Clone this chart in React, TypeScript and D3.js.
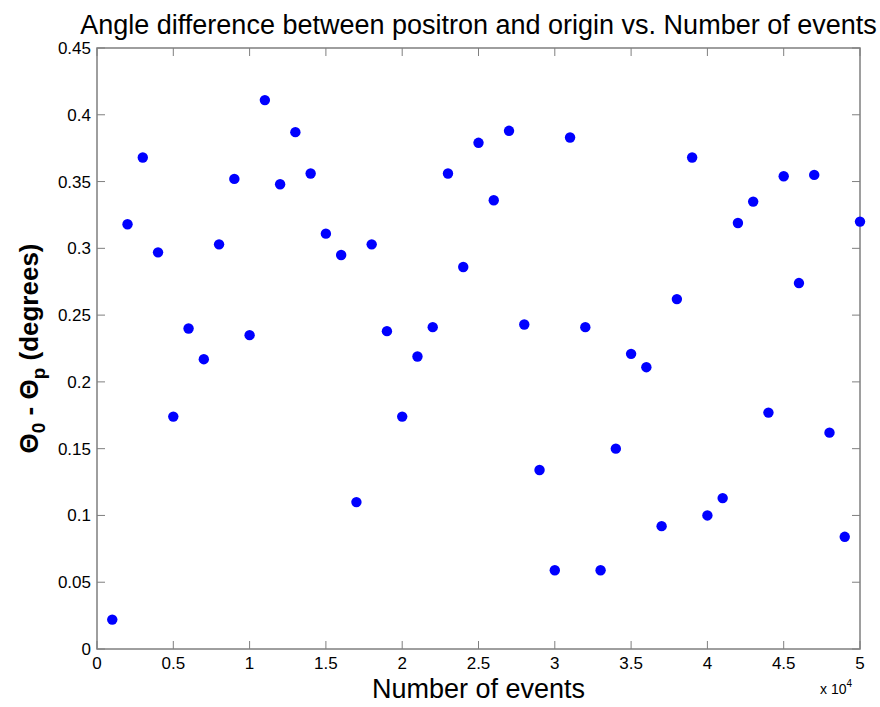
import React from 'react'
import * as d3 from 'd3'

// events (x) and angle difference in degrees (y)
const events = [
  1000, 2000, 3000, 4000, 5000, 6000, 7000, 8000, 9000, 10000,
  11000, 12000, 13000, 14000, 15000, 16000, 17000, 18000, 19000, 20000,
  21000, 22000, 23000, 24000, 25000, 26000, 27000, 28000, 29000, 30000,
  31000, 32000, 33000, 34000, 35000, 36000, 37000, 38000, 39000, 40000,
  41000, 42000, 43000, 44000, 45000, 46000, 47000, 48000, 49000, 50000
]
const angleDiff = [
  0.022, 0.318, 0.368, 0.297, 0.174, 0.240, 0.217, 0.303, 0.352, 0.235,
  0.411, 0.348, 0.387, 0.356, 0.311, 0.295, 0.110, 0.303, 0.238, 0.174,
  0.219, 0.241, 0.356, 0.286, 0.379, 0.336, 0.388, 0.243, 0.134, 0.059,
  0.383, 0.241, 0.059, 0.150, 0.221, 0.211, 0.092, 0.262, 0.368, 0.100,
  0.113, 0.319, 0.335, 0.177, 0.354, 0.274, 0.355, 0.162, 0.084, 0.320
]
const xTicks = [0, 5000, 10000, 15000, 20000, 25000, 30000, 35000, 40000, 45000, 50000]
const yTicks = [0, 0.05, 0.1, 0.15, 0.2, 0.25, 0.3, 0.35, 0.4, 0.45]

const title = 'Angle difference between positron and origin vs. Number of events'
const xLabel = 'Number of events'

export default function App() {
  const width = 880
  const height = 707
  const left = 97
  const right = 860
  const top = 48
  const bottom = 649

  const x = d3.scaleLinear().domain([0, 50000]).range([left, right])
  const y = d3.scaleLinear().domain([0, 0.45]).range([bottom, top])

  const font = 'Arial, "Liberation Sans", Helvetica, sans-serif'
  const axisColor = '#7f7f7f'
  const tickLen = 8

  return (
    <svg
      width={width}
      height={height}
      style={{ position: 'absolute', left: 0, top: 0, background: '#fff' }}
      fontFamily={font}
    >
      <rect x={0} y={0} width={width} height={height} fill="#fff" />

      {/* ticks on all four sides */}
      {xTicks.map((t, i) => (
        <g key={'xt' + i}>
          <line x1={x(t)} x2={x(t)} y1={bottom} y2={bottom - tickLen} stroke={axisColor} />
          <line x1={x(t)} x2={x(t)} y1={top} y2={top + tickLen} stroke={axisColor} />
          <text x={x(t)} y={bottom + 20} textAnchor="middle" fontSize={17} fill="#000">
            {t / 10000}
          </text>
        </g>
      ))}
      {yTicks.map((t, i) => (
        <g key={'yt' + i}>
          <line x1={left} x2={left + tickLen} y1={y(t)} y2={y(t)} stroke={axisColor} />
          <line x1={right} x2={right - tickLen} y1={y(t)} y2={y(t)} stroke={axisColor} />
          <text x={left - 6} y={y(t) + 6} textAnchor="end" fontSize={17} fill="#000">
            {t}
          </text>
        </g>
      ))}

      <rect
        x={left}
        y={top}
        width={right - left}
        height={bottom - top}
        fill="none"
        stroke={axisColor}
        strokeWidth={1.5}
      />

      {events.map((e, i) => (
        <circle key={i} cx={x(e)} cy={y(angleDiff[i])} r={5.2} fill="#0000ff" />
      ))}

      <text x={(left + right) / 2} y={34} textAnchor="middle" fontSize={27} fill="#000">
        {title}
      </text>

      <text x={(left + right) / 2} y={698} textAnchor="middle" fontSize={27} fill="#000">
        {xLabel}
      </text>

      <text x={820} y={694} fontSize={14} fill="#000">
        x 10
        <tspan dy={-7} fontSize={10}>4</tspan>
      </text>

      <text
        transform={`translate(38, ${(top + bottom) / 2}) rotate(-90)`}
        textAnchor="middle"
        fontSize={26}
        fontWeight="bold"
        fill="#000"
      >
        Θ<tspan dy={7} fontSize={19}>0</tspan>
        <tspan dy={-7}> - Θ</tspan>
        <tspan dy={7} fontSize={19}>p</tspan>
        <tspan dy={-7}> (degrees)</tspan>
      </text>
    </svg>
  )
}
